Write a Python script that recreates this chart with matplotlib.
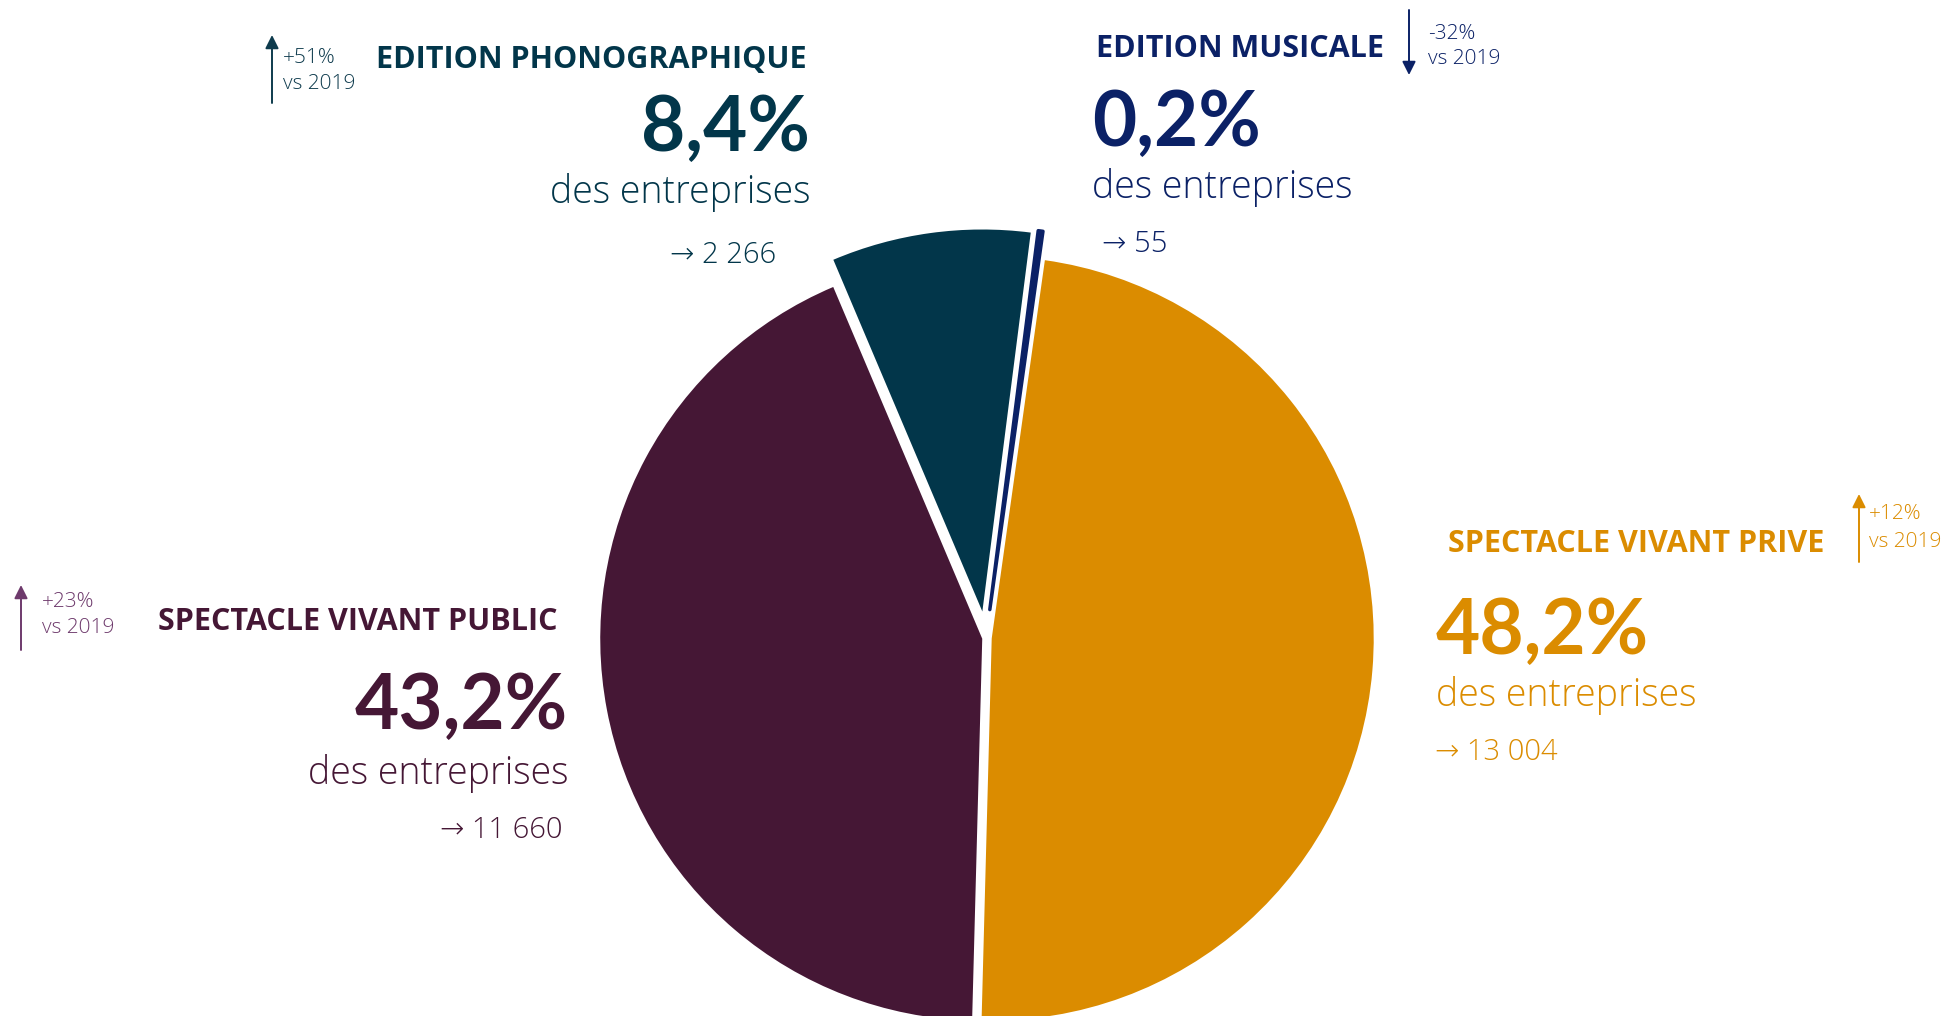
import matplotlib
matplotlib.use("Agg")
import matplotlib.pyplot as plt

W, H = 1944, 1016

# data
sectors = ["SPECTACLE VIVANT PRIVE", "SPECTACLE VIVANT PUBLIC",
           "EDITION PHONOGRAPHIQUE", "EDITION MUSICALE"]
shares = [48.2, 43.2, 8.4, 0.2]
counts = ["13 004", "11 660", "2 266", "55"]
changes = ["+12%", "+23%", "+51%", "-32%"]
colors = ["#DB8C00", "#451735", "#02364A", "#0B2166"]
accent = ["#DB8C00", "#6E3A6C", "#0E3B4D", "#0B2166"]

fig = plt.figure(figsize=(W / 100, H / 100), dpi=100)

# pie: centre (986, 638) px, radius 382 px
cx, cy, r = 986, 638, 382
half = 1.2 * r
ax = fig.add_axes([(cx - half) / W, (H - cy - half) / H, 2 * half / W, 2 * half / H])
wedges, _ = ax.pie(shares, colors=colors, startangle=82, counterclock=False,
                   explode=[0.015, 0.01, 0.07, 0.075],
                   wedgeprops=dict(linewidth=0))
wedges[3].set_edgecolor(colors[3])
wedges[3].set_linewidth(2.5)
wedges[3].set_joinstyle("round")
ax.set_xlim(-1.2, 1.2)
ax.set_ylim(-1.2, 1.2)
ax.axis("off")

# overlay in pixel coords for the labels
ov = fig.add_axes([0, 0, 1, 1])
ov.set_xlim(0, W)
ov.set_ylim(H, 0)
ov.axis("off")

TITLE = dict(family=["Open Sans", "DejaVu Sans"], fontweight="bold", fontsize=22)
PCT = dict(family=["Lato", "DejaVu Sans"], fontweight="bold", fontsize=55)
DES = dict(family=["Open Sans", "DejaVu Sans"], fontweight="light", fontsize=27)
CNT = dict(family=["Open Sans", "DejaVu Sans"], fontweight="light", fontsize=21)
SMALL = dict(family=["Open Sans", "DejaVu Sans"], fontweight="light", fontsize=15)

# per-sector layout in pixels (baselines)
layout = [
    dict(x=1436, ha="left", title=(1448, 552), pct=654, des=706, cnt=(1435, 760),
         arrow=(1859, 562, 494), small=(1869, 519, 547)),
    dict(x=568, ha="right", title=(557, 630), pct=729, des=784, cnt=(562, 838),
         arrow=(21, 650, 585), small=(42, 607, 633)),
    dict(x=810, ha="right", title=(807, 68), pct=151, des=203, cnt=(776, 263),
         arrow=(272, 103, 35), small=(283, 63, 89)),
    dict(x=1092, ha="left", title=(1096, 57), pct=146, des=198, cnt=(1102, 252),
         arrow=(1409, 10, 75), small=(1428, 39, 64)),
]

for i, lay in enumerate(layout):
    c = colors[i]
    ha = lay["ha"]
    ov.text(lay["title"][0], lay["title"][1], sectors[i], color=c, ha=ha,
            va="baseline", **TITLE)
    pct = f"{shares[i]:.1f}%".replace(".", ",")
    ov.text(lay["x"], lay["pct"], pct, color=c, ha=ha, va="baseline", **PCT)
    ov.text(lay["x"], lay["des"], "des entreprises", color=c, ha=ha,
            va="baseline", **DES)
    ov.text(lay["cnt"][0], lay["cnt"][1], "\u2192 " + counts[i], color=c, ha=ha,
            va="baseline", **CNT)
    ax_x, y0, y1 = lay["arrow"]
    ov.annotate("", xy=(ax_x, y1), xytext=(ax_x, y0),
                arrowprops=dict(arrowstyle="-|>", color=accent[i], lw=1.4,
                                mutation_scale=20, shrinkA=0, shrinkB=0))
    sx, sy1, sy2 = lay["small"]
    ov.text(sx, sy1, changes[i], color=accent[i], ha="left", va="baseline", **SMALL)
    ov.text(sx, sy2, "vs 2019", color=accent[i], ha="left", va="baseline", **SMALL)

fig.savefig("out.png", dpi=100, facecolor="white")
